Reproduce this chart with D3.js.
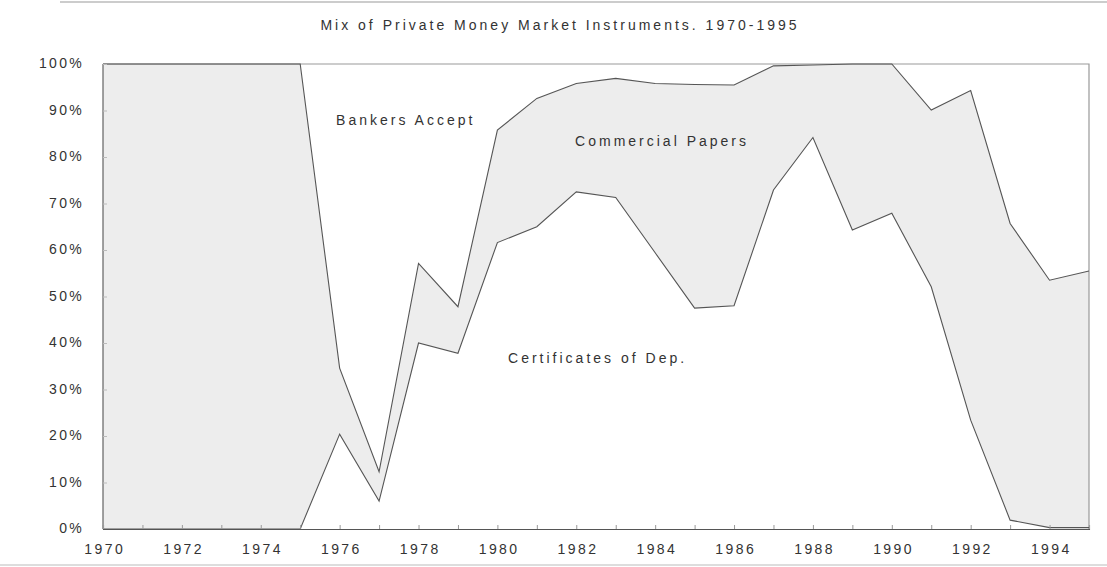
<!DOCTYPE html>
<html>
<head>
<meta charset="utf-8">
<script src="https://cdn.jsdelivr.net/npm/d3@7"></script>
<style>
  body { margin: 0; background: #fff; }
  text { font-family: "Liberation Sans", Arial, sans-serif; fill: #333; }
</style>
</head>
<body>
<div id="chart"></div>
<script>
// years on the x axis
var years = d3.range(1970, 1996);

// share of each instrument (%)
var certificates = [0, 0, 0, 0, 0, 0, 20.4, 6.0, 40.0, 37.8, 61.6, 65.0, 72.5, 71.3, 59.4, 47.5, 48.0, 72.9, 84.2, 64.3, 67.9, 52.1, 23.4, 1.9, 0.3, 0.3];
var commercial   = [100, 100, 100, 100, 100, 100, 14.2, 6.3, 17.1, 10.0, 24.2, 27.6, 23.3, 25.6, 36.4, 48.1, 47.5, 26.7, 15.6, 35.7, 32.1, 38.0, 70.9, 63.8, 53.2, 55.2];
var bankers      = [0, 0, 0, 0, 0, 0, 65.4, 87.7, 42.9, 52.2, 14.2, 7.4, 4.2, 3.1, 4.2, 4.4, 4.5, 0.4, 0.2, 0, 0, 9.9, 5.7, 34.3, 46.5, 44.5];

var yTicks = [0, 10, 20, 30, 40, 50, 60, 70, 80, 90, 100];
var xTickLabels = d3.range(1970, 1995, 2);

var seriesKeys = ['cd', 'cp', 'ba'];
var seriesFill = { cd: '#ffffff', cp: '#ededed', ba: '#ffffff' };

var labels = [
  { text: 'Bankers Accept', year: 1975.91, value: 88 },
  { text: 'Commercial Papers', year: 1981.97, value: 83.5 },
  { text: 'Certificates of Dep.', year: 1980.27, value: 36.8 }
];

var width = 1107, height = 567;
var margin = { top: 64, right: 18, bottom: 38, left: 103 };

var table = years.map(function(y, i){
  return { year: y, cd: certificates[i], cp: commercial[i], ba: bankers[i] };
});

var stacked = d3.stack().keys(seriesKeys)(table);

var x = d3.scaleLinear().domain([1970, 1995]).range([margin.left, width - margin.right]);
var y = d3.scaleLinear().domain([0, 100]).range([height - margin.bottom, margin.top]);

var svg = d3.select('#chart').append('svg')
  .attr('width', width)
  .attr('height', height);

// faint scan frame
svg.append('line')
  .attr('x1', 60).attr('x2', width).attr('y1', 2).attr('y2', 2)
  .attr('stroke', '#bbb').attr('stroke-width', 1.5);
svg.append('line')
  .attr('x1', 0).attr('x2', width).attr('y1', 565).attr('y2', 565)
  .attr('stroke', '#ddd').attr('stroke-width', 2);

svg.append('text')
  .attr('x', 560).attr('y', 30)
  .attr('text-anchor', 'middle')
  .style('font-size', '14px')
  .style('letter-spacing', '3px')
  .text('Mix of Private Money Market Instruments. 1970-1995');

var area = d3.area()
  .x(function(d){ return x(d.data.year); })
  .y0(function(d){ return y(d[0]); })
  .y1(function(d){ return y(d[1]); });

svg.append('g').selectAll('path')
  .data(stacked)
  .enter().append('path')
    .attr('d', area)
    .attr('fill', function(d){ return seriesFill[d.key]; });

// plot frame (top and right are light)
svg.append('path')
  .attr('d', 'M' + x(1970) + ',' + y(100) + 'H' + x(1995) + 'V' + y(0))
  .attr('fill', 'none').attr('stroke', '#999').attr('stroke-width', 1.2);

// boundary lines between the series
var line = d3.line()
  .x(function(d){ return x(d.data.year); })
  .y(function(d){ return y(d[1]); });

svg.append('g').selectAll('path')
  .data(stacked.slice(0, 2))
  .enter().append('path')
    .attr('d', line)
    .attr('fill', 'none')
    .attr('stroke', '#555')
    .attr('stroke-width', 1.1);

// left edge of the grey block
svg.append('line')
  .attr('x1', x(1970)).attr('x2', x(1970))
  .attr('y1', y(0)).attr('y2', y(100))
  .attr('stroke', '#555').attr('stroke-width', 1.1);

// axes
var yAxis = d3.axisLeft(y)
  .tickValues(yTicks)
  .tickSize(-4)
  .tickPadding(19)
  .tickFormat(function(d){ return d + '%'; });

var gy = svg.append('g')
  .attr('transform', 'translate(' + x(1970) + ',0)')
  .call(yAxis);
gy.select('.domain').remove();
gy.selectAll('.tick line').attr('stroke', '#bbb');
gy.selectAll('.tick text')
  .style('font-size', '14px')
  .style('letter-spacing', '2.3px')
  .attr('dy', '0.25em')
  .attr('fill', '#333');

var xAxis = d3.axisBottom(x)
  .tickValues(years)
  .tickSize(-4)
  .tickPadding(15)
  .tickFormat(function(d){ return xTickLabels.indexOf(d) >= 0 ? d : ''; });

var gx = svg.append('g')
  .attr('transform', 'translate(0,' + y(0) + ')')
  .call(xAxis);
gx.select('.domain').attr('stroke', '#555').attr('stroke-width', 1.1);
gx.selectAll('.tick line').attr('stroke', '#999');
gx.selectAll('.tick text')
  .style('font-size', '14px')
  .style('letter-spacing', '2.4px')
  .attr('dx', '1.2')
  .attr('fill', '#333');

svg.append('g').selectAll('text')
  .data(labels)
  .enter().append('text')
    .attr('x', function(d){ return x(d.year); })
    .attr('y', function(d){ return y(d.value); })
    .attr('dy', '0.35em')
    .style('font-size', '14px')
    .style('letter-spacing', '3px')
    .text(function(d){ return d.text; });
</script>
</body>
</html>
